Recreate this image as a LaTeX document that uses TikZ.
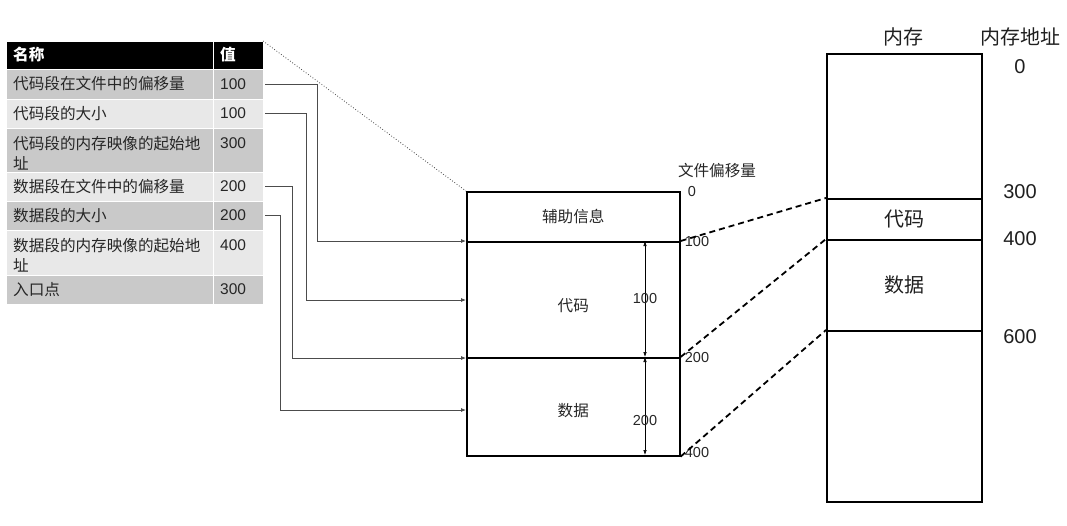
\documentclass[tikz,border=0pt]{standalone}
\usepackage{fontspec}
\setmainfont{Liberation Sans}
\newfontfamily\cjk{Noto Sans CJK SC}
\usetikzlibrary{arrows.meta,calc}
\tikzset{
  cell/.style={draw=white, line width=1pt, anchor=north west, inner sep=0pt, outer sep=0pt},
  hdr/.style={cell, fill=black},
  darkrow/.style={cell, fill=black!21},
  lightrow/.style={cell, fill=black!9},
  txt/.style={font=\cjk\fontsize{15.6}{20}\selectfont, text=black!85, inner sep=0pt, align=left},
  num/.style={font=\fontsize{15.5}{20}\selectfont, text=black!85, inner sep=0pt},
  hdrtxt/.style={font=\cjk\bfseries\fontsize{15.6}{20}\selectfont, text=white, inner sep=0pt, anchor=west},
  conn/.style={draw=black!70, line width=0.8pt, -{Latex[length=5pt,width=4pt]}},
  fbox/.style={draw=black, line width=1.6pt, anchor=north west, inner sep=0pt, minimum width=213pt},
  mbox/.style={draw=black, line width=1.6pt, anchor=north west, inner sep=0pt, minimum width=155pt},
  ftxt/.style={font=\cjk\fontsize{15.6}{20}\selectfont, text=black!85, inner sep=0pt},
  fnum/.style={font=\fontsize{14.5}{18}\selectfont, text=black!85, inner sep=0pt},
  mtxt/.style={font=\cjk\fontsize{20}{24}\selectfont, text=black!88, inner sep=0pt},
  mnum/.style={font=\fontsize{20}{24}\selectfont, text=black!88, inner sep=0pt},
  dimarr/.style={draw=black, line width=0.6pt, {Latex[length=5pt,width=3.5pt]}-{Latex[length=5pt,width=3.5pt]}},
  mapline/.style={draw=black, line width=1.8pt, dash pattern=on 6pt off 4pt},
}
\begin{document}
\begin{tikzpicture}[x=1pt,y=-1pt]
\useasboundingbox (0,0) rectangle (1067,525);

% ---- table ----
\node[hdr, minimum width=207pt, minimum height=28pt] (h1) at (6,41) {};
\node[hdr, minimum width=50pt, minimum height=28pt] (h2) at (213,41) {};
\node[hdrtxt] (h1t) at ($(h1.west)+(7,0)$) {名称};
\node[hdrtxt] (h2t) at ($(h2.west)+(7,0)$) {值};

\node[darkrow, minimum width=207pt, minimum height=30pt] (r1n) at (6,69) {};
\node[darkrow, minimum width=50pt, minimum height=30pt] (r1v) at (213,69) {};
\node[lightrow, minimum width=207pt, minimum height=29pt] (r2n) at (6,99) {};
\node[lightrow, minimum width=50pt, minimum height=29pt] (r2v) at (213,99) {};
\node[darkrow, minimum width=207pt, minimum height=44pt] (r3n) at (6,128) {};
\node[darkrow, minimum width=50pt, minimum height=44pt] (r3v) at (213,128) {};
\node[lightrow, minimum width=207pt, minimum height=29pt] (r4n) at (6,172) {};
\node[lightrow, minimum width=50pt, minimum height=29pt] (r4v) at (213,172) {};
\node[darkrow, minimum width=207pt, minimum height=29pt] (r5n) at (6,201) {};
\node[darkrow, minimum width=50pt, minimum height=29pt] (r5v) at (213,201) {};
\node[lightrow, minimum width=207pt, minimum height=45pt] (r6n) at (6,230) {};
\node[lightrow, minimum width=50pt, minimum height=45pt] (r6v) at (213,230) {};
\node[darkrow, minimum width=207pt, minimum height=29pt] (r7n) at (6,275) {};
\node[darkrow, minimum width=50pt, minimum height=29pt] (r7v) at (213,275) {};

\node[txt, anchor=west] (r1nt) at ($(r1n.west)+(7,0)$) {代码段在文件中的偏移量};
\node[num, anchor=west] (r1vt) at ($(r1v.west)+(7,0)$) {100};
\node[txt, anchor=west] (r2nt) at ($(r2n.west)+(7,0)$) {代码段的大小};
\node[num, anchor=west] (r2vt) at ($(r2v.west)+(7,0)$) {100};
\node[txt, anchor=north west] (r3nt) at ($(r3n.north west)+(7,8)$) {代码段的内存映像的起始地\\址};
\node[num, anchor=north west] (r3vt) at ($(r3v.north west)+(7,9.5)$) {300};
\node[txt, anchor=west] (r4nt) at ($(r4n.west)+(7,0)$) {数据段在文件中的偏移量};
\node[num, anchor=west] (r4vt) at ($(r4v.west)+(7,0)$) {200};
\node[txt, anchor=west] (r5nt) at ($(r5n.west)+(7,0)$) {数据段的大小};
\node[num, anchor=west] (r5vt) at ($(r5v.west)+(7,0)$) {200};
\node[txt, anchor=north west] (r6nt) at ($(r6n.north west)+(7,8)$) {数据段的内存映像的起始地\\址};
\node[num, anchor=north west] (r6vt) at ($(r6v.north west)+(7,9.5)$) {400};
\node[txt, anchor=west] (r7nt) at ($(r7n.west)+(7,0)$) {入口点};
\node[num, anchor=west] (r7vt) at ($(r7v.west)+(7,0)$) {300};

% ---- file layout ----
\node[fbox, minimum height=50pt] (aux) at (466,191) {};
\node[fbox, minimum height=116pt] (code) at (466,241) {};
\node[fbox, minimum height=98pt] (data) at (466,357) {};
\node[ftxt] (auxt) at (aux.center) {辅助信息};
\node[ftxt] (codet) at ($(code.center)+(0,6)$) {代码};
\node[ftxt] (datat) at ($(data.center)+(0,4)$) {数据};

\node[ftxt] (offt) at (717,171) {文件偏移量};
\node[fnum] (o0) at (692,192) {0};
\node[fnum] (o100) at (697,242) {100};
\node[fnum] (o200) at (697,358) {200};
\node[fnum] (o400) at (697,453) {400};

\coordinate (dt) at (645,241);
\coordinate (dm) at (645,357);
\coordinate (db) at (645,455);
\draw[dimarr] (dt) -- node[fnum, pos=0.5] (l100) {100} (dm);
\draw[dimarr] (dm) -- node[fnum, pos=0.65] (l200) {200} (db);

% ---- dotted zoom line ----
\draw[dotted, draw=black!75, line width=0.8pt] (h2.north east) -- (aux.north west);

% ---- connectors ----
\coordinate (k1) at (317,241);
\coordinate (k2) at (306,300);
\coordinate (k4) at (292,358);
\coordinate (k5) at (280,410);
\draw[conn] ([xshift=2pt]r1v.east) -| (k1) -- (k1 -| aux.west);
\draw[conn] ([xshift=2pt]r2v.east) -| (k2) -- (k2 -| code.west);
\draw[conn] ([xshift=2pt]r4v.east) -| (k4) -- (k4 -| data.west);
\draw[conn] ([xshift=2pt]r5v.east) -| (k5) -- (k5 -| data.west);

% ---- memory ----
\node[mbox, minimum height=145pt] (m0) at (826,53) {};
\node[mbox, minimum height=41pt] (mcode) at (826,198) {};
\node[mbox, minimum height=91pt] (mdata) at (826,239) {};
\node[mbox, minimum height=171pt] (mrest) at (826,330) {};
\node[mtxt] (mcodet) at (mcode.center) {代码};
\node[mtxt] (mdatat) at (mdata.center) {数据};
\node[mtxt] (memt) at (903,37) {内存};
\node[mtxt] (addrt) at (1020,37) {内存地址};
\node[mnum] (a0) at (1020,67) {0};
\node[mnum] (a300) at (1020,192) {300};
\node[mnum] (a400) at (1020,239) {400};
\node[mnum] (a600) at (1020,337) {600};

% ---- mapping lines ----
\draw[mapline] (code.north east) -- (mcode.north west);
\draw[mapline] (data.north east) -- (mdata.north west);
\draw[mapline] (data.south east) -- (mrest.north west);
\end{tikzpicture}
\end{document}
